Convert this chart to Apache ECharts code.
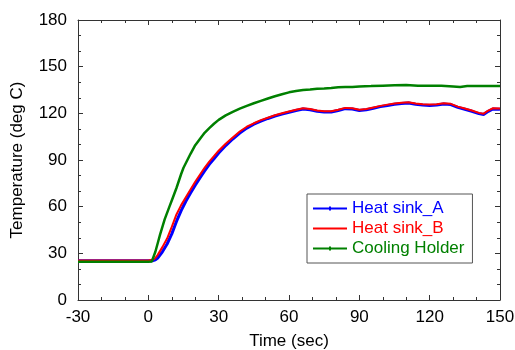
<!DOCTYPE html>
<html><head><meta charset="utf-8">
<script src="https://cdn.jsdelivr.net/npm/echarts@6/dist/echarts.min.js"></script>
<style>html,body{margin:0;padding:0;background:#fff}#c{width:515px;height:350px}</style>
</head><body><div id="c"></div>
<script>
const timeAB = [-30,-20,-10,0,2,3,4,6,8,10,12,14,16,18,20,22,24,26,28,30,33,36,39,42,45,48,51,54,57,60,63,66,69,72,75,78,81,84,87,90,93,96,99,102,105,108,111,114,117,120,123,126,129,132,135,138,141,143,145,147,150];
const heatSinkA = [25.3,25.3,25.3,25.3,25.3,25.8,27,31,36,42.5,50.5,57.5,63.5,68.8,73.8,78.5,83,87.2,90.8,94.5,99.3,103.5,107.3,110.5,113,115,116.7,118.3,119.5,120.7,121.8,122.8,122.3,121.3,120.8,120.8,121.8,123,122.8,121.8,122.3,123.3,124.3,125.1,125.8,126.3,126.6,125.8,125.3,125.1,125.3,126,125.6,123.8,122.6,121.3,119.8,119.3,121.3,122.8,122.6];
const heatSinkB = [25.4,25.4,25.4,25.4,26,27,29,34,39.5,47,55,61,66,71,76,80.5,85,89,92.5,96,100.5,104.5,108.3,111.4,113.6,115.6,117.2,118.8,120,121.2,122.3,123.3,122.8,121.8,121.3,121.3,122.3,123.5,123.3,122.3,122.8,123.8,124.8,125.6,126.3,126.8,127.1,126.3,125.8,125.6,125.8,126.5,126.1,124.3,123.1,121.8,120.3,119.8,121.8,123.3,123.1];
const timeC = [-30,-20,-10,0,1.5,2.1,3,4,5,6,7,8,9,10,11,12,13,14,15,16.5,18,20,22,24,26,28,30,33,36,39,42,45,48,51,54,57,60,63,66,69,72,75,78,81,84,87,90,95,100,105,110,115,120,125,130,133,136,140,145,150];
const coolingHolder = [24.6,24.6,24.6,24.6,24.8,26,31,36.5,42,47,52,56,60,64,68,72,76.5,81,85,89.5,94,99.5,103.5,107.5,110.5,113.3,115.8,118.7,121,123,124.8,126.5,128,129.5,131,132.3,133.5,134.3,135,135.3,135.8,136,136.3,136.7,137,137,137.3,137.5,137.8,138,138.2,137.8,137.8,137.8,137.3,137,137.5,137.6,137.6,137.6];
const xTicks = [-30,0,30,60,90,120,150];
const yTicks = [0,30,60,90,120,150,180];

const pairs = (xs, ys) => xs.map((x, i) => [x, ys[i]]);
const font = 'Liberation Sans, Arial, sans-serif';
const axisCol = '#333';
const chart = echarts.init(document.getElementById('c'), null, {renderer: 'canvas'});

const baseX = {
  type: 'value', min: xTicks[0], max: xTicks[xTicks.length - 1], interval: 30,
  axisLine: {show: true, onZero: false, lineStyle: {color: axisCol, width: 1}},
  axisTick: {show: true, inside: true, length: 5, lineStyle: {color: axisCol}},
  minorTick: {show: true, splitNumber: 3, length: 3, lineStyle: {color: axisCol}},
  splitLine: {show: false}
};
const baseY = {
  type: 'value', min: yTicks[0], max: yTicks[yTicks.length - 1], interval: 30,
  axisLine: {show: true, onZero: false, lineStyle: {color: axisCol, width: 1}},
  axisTick: {show: true, inside: true, length: 5, lineStyle: {color: axisCol}},
  minorTick: {show: true, splitNumber: 3, length: 3, lineStyle: {color: axisCol}},
  splitLine: {show: false}
};
const iconDot = 'path://M0,4L34,4L34,6L0,6Z M16,3L18,3L18,7L16,7Z';
const iconLine = 'path://M0,4L34,4L34,6L0,6Z M0,0L0.01,0L0.01,0.01Z M0,10L0.01,10L0.01,9.99Z';

chart.setOption({
  animation: false,
  backgroundColor: '#fff',
  grid: {left: 78, right: 15, top: 20, bottom: 50, outerBoundsMode: 'none', containLabel: false},
  legend: {
    left: 307, top: 194, orient: 'vertical',
    itemWidth: 34, itemHeight: 10, itemGap: 3,
    padding: [6, 8, 6, 6],
    borderColor: '#555', borderWidth: 1, backgroundColor: '#fff',
    textStyle: {fontFamily: font, fontSize: 17},
    data: [
      {name: 'Heat sink_A', icon: iconDot, textStyle: {color: '#0000ff'}},
      {name: 'Heat sink_B', icon: iconLine, textStyle: {color: '#ff0000'}},
      {name: 'Cooling Holder', icon: iconDot, textStyle: {color: '#008000'}}
    ]
  },
  xAxis: [
    Object.assign({}, baseX, {
      position: 'bottom',
      name: 'Time (sec)', nameLocation: 'middle', nameGap: 33,
      nameTextStyle: {fontFamily: font, fontSize: 17, color: '#000'},
      axisLabel: {fontFamily: font, fontSize: 17, color: '#000', margin: 9}
    }),
    Object.assign({}, baseX, {position: 'top', axisLabel: {show: false}})
  ],
  yAxis: [
    Object.assign({}, baseY, {
      position: 'left',
      name: 'Temperature (deg C)', nameLocation: 'middle', nameGap: 52,
      nameTextStyle: {fontFamily: font, fontSize: 17, color: '#000'},
      axisLabel: {fontFamily: font, fontSize: 17, color: '#000', margin: 11}
    }),
    Object.assign({}, baseY, {position: 'right', axisLabel: {show: false}})
  ],
  series: [
    {name: 'Heat sink_A', type: 'line', data: pairs(timeAB, heatSinkA), showSymbol: false,
     symbol: 'none', color: '#0000ff', lineStyle: {width: 3, color: '#0000ff'}, z: 2},
    {name: 'Heat sink_B', type: 'line', data: pairs(timeAB, heatSinkB), showSymbol: false,
     symbol: 'none', color: '#ff0000', lineStyle: {width: 2, color: '#ff0000'}, z: 3},
    {name: 'Cooling Holder', type: 'line', data: pairs(timeC, coolingHolder), showSymbol: false,
     symbol: 'none', color: '#008000', lineStyle: {width: 2.5, color: '#008000'}, z: 4}
  ]
});
</script></body></html>
